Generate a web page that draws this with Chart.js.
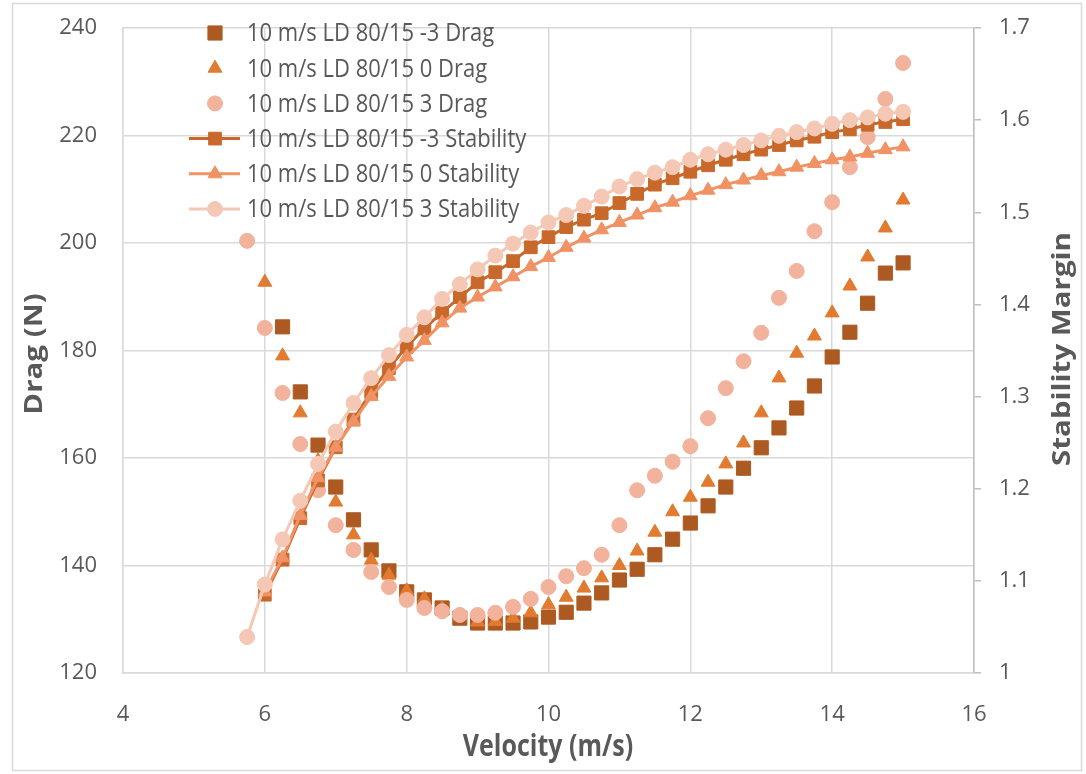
<!DOCTYPE html>
<html>
<head>
<meta charset="utf-8">
<script src="https://cdn.jsdelivr.net/npm/chart.js@4.4.1/dist/chart.umd.min.js"></script>
<style>
  html, body { margin: 0; padding: 0; background: #fff; }
  #wrap { width: 1086px; height: 774px; }
</style>
</head>
<body>
<div id="wrap"><canvas id="chartCanvas" width="1086" height="774"></canvas></div>
<script>
// velocity samples (m/s)
const velocity = [5.75, 6, 6.25, 6.5, 6.75, 7, 7.25, 7.5, 7.75, 8, 8.25, 8.5, 8.75, 9, 9.25, 9.5, 9.75, 10,
  10.25, 10.5, 10.75, 11, 11.25, 11.5, 11.75, 12, 12.25, 12.5, 12.75, 13, 13.25, 13.5, 13.75, 14, 14.25, 14.5, 14.75, 15];

// drag (N), left axis
const dragM3 = [null, null, 184.4, 172.3, 162.4, 154.6, 148.5, 142.9, 139.0, 135.1, 133.6, 132.1, 130.2, 129.3, 129.3, 129.3, 129.5, 130.4,
  131.3, 133.0, 134.9, 137.3, 139.3, 142.0, 144.9, 147.9, 151.1, 154.6, 158.1, 161.9, 165.6, 169.3, 173.4, 178.8, 183.4, 188.8, 194.4, 196.3];
const drag0 = [null, 192.7, 179.0, 168.4, 159.5, 151.8, 145.7, 141.0, 138.2, 135.3, 133.8, 132.0, 130.6, 129.5, 129.6, 130.2, 131.2, 132.7,
  134.1, 135.8, 137.7, 140.0, 142.7, 146.2, 150.0, 152.7, 155.5, 158.9, 162.8, 168.4, 174.9, 179.5, 182.7, 187.0, 192.0, 197.4, 202.8, 208.0];
const drag3 = [200.4, 184.2, 172.1, 162.6, 154.0, 147.5, 142.9, 138.8, 136.0, 133.6, 132.1, 131.5, 130.8, 130.8, 131.2, 132.3, 133.8, 136.0,
  138.0, 139.5, 142.0, 147.5, 154.0, 156.7, 159.3, 162.2, 167.4, 173.0, 178.0, 183.3, 189.8, 194.8, 202.2, 207.6, 214.1, 219.7, 226.8, 233.5];

// stability margin, right axis
const stabM3 = [null, 1.085, 1.123, 1.168, 1.209, 1.245, 1.275, 1.305, 1.331, 1.354, 1.374, 1.391, 1.408, 1.424, 1.435, 1.447, 1.462, 1.473,
  1.484, 1.492, 1.499, 1.510, 1.520, 1.530, 1.537, 1.544, 1.551, 1.557, 1.563, 1.568, 1.573, 1.578, 1.582, 1.587, 1.590, 1.595, 1.598, 1.601];
const stab0 = [null, 1.088, 1.125, 1.171, 1.212, 1.245, 1.273, 1.300, 1.322, 1.343, 1.361, 1.380, 1.396, 1.408, 1.419, 1.430, 1.441, 1.451,
  1.462, 1.472, 1.481, 1.489, 1.497, 1.505, 1.511, 1.518, 1.524, 1.530, 1.535, 1.540, 1.544, 1.549, 1.553, 1.557, 1.560, 1.564, 1.568, 1.571];
const stab3 = [1.039, 1.096, 1.145, 1.187, 1.227, 1.262, 1.293, 1.320, 1.345, 1.367, 1.386, 1.406, 1.422, 1.438, 1.453, 1.466, 1.478, 1.489,
  1.497, 1.507, 1.517, 1.528, 1.536, 1.543, 1.549, 1.557, 1.563, 1.568, 1.573, 1.578, 1.583, 1.587, 1.591, 1.596, 1.600, 1.603, 1.607, 1.609];

const seriesLabels = [
  '10 m/s LD 80/15 -3 Drag',
  '10 m/s LD 80/15 0 Drag',
  '10 m/s LD 80/15 3 Drag',
  '10 m/s LD 80/15 -3 Stability',
  '10 m/s LD 80/15 0 Stability',
  '10 m/s LD 80/15 3 Stability'
];

const FONT = '"Open Sans", sans-serif';
const TEXT = '#595959';
const GRID = '#d9d9d9';
const STRETCH = 1.18; // text is drawn a bit taller than wide

function toPoints(values) {
  return velocity.map((v, i) => ({ x: v, y: values[i] })).filter(p => p.y !== null);
}

function series(label, values, color, style, radius, axis, line, order) {
  return {
    label: label,
    data: toPoints(values),
    yAxisID: axis,
    showLine: line,
    borderColor: color,
    backgroundColor: color,
    borderWidth: 3,
    pointStyle: style,
    pointRadius: radius,
    pointBorderWidth: 1,
    pointBorderColor: color,
    pointBackgroundColor: color,
    pointHoverRadius: radius,
    order: order
  };
}

const datasets = [
  series(seriesLabels[0], dragM3, '#ad5a22', 'rect', 10, 'y', false, 6),
  series(seriesLabels[1], drag0, '#e27a2f', 'triangle', 8, 'y', false, 5),
  series(seriesLabels[2], drag3, '#f2b29b', 'circle', 7.5, 'y', false, 4),
  series(seriesLabels[3], stabM3, '#c8692b', 'rect', 9, 'y2', true, 3),
  series(seriesLabels[4], stab0, '#f09264', 'triangle', 8, 'y2', true, 2),
  series(seriesLabels[5], stab3, '#f5c8b6', 'circle', 7.5, 'y2', true, 1)
];

function stretchedText(ctx, text, x, y, angle) {
  ctx.save();
  ctx.translate(x, y);
  if (angle) {
    ctx.rotate(angle);
    ctx.scale(STRETCH, 1);
  } else {
    ctx.scale(1, STRETCH);
  }
  ctx.fillText(text, 0, 0);
  ctx.restore();
}

// background, frame, axis titles and the legend block
const decorations = {
  id: 'decorations',
  beforeDraw(chart) {
    const ctx = chart.ctx;
    ctx.save();
    ctx.fillStyle = '#fff';
    ctx.fillRect(0, 0, chart.width, chart.height);
    ctx.strokeStyle = GRID;
    ctx.lineWidth = 1.5;
    ctx.strokeRect(12.5, 3.5, 1069, 767);
    ctx.restore();
  },
  afterDraw(chart) {
    const ctx = chart.ctx;
    ctx.save();
    ctx.fillStyle = TEXT;
    ctx.font = 'bold 25px ' + FONT;
    ctx.textAlign = 'center';
    ctx.textBaseline = 'middle';
    stretchedText(ctx, 'Velocity (m/s)', 548, 748, 0);
    stretchedText(ctx, 'Drag (N)', 35, 354, -Math.PI / 2);
    stretchedText(ctx, 'Stability Margin', 1063, 349, -Math.PI / 2);

    // legend
    ctx.font = '22px ' + FONT;
    ctx.textAlign = 'left';
    chart.data.datasets.forEach((ds, i) => {
      const y = 33 + i * 35.2;
      ctx.strokeStyle = ds.borderColor;
      ctx.fillStyle = ds.backgroundColor;
      if (ds.showLine) {
        ctx.lineWidth = 3;
        ctx.beginPath();
        ctx.moveTo(189, y);
        ctx.lineTo(240, y);
        ctx.stroke();
      }
      ctx.lineWidth = 1;
      Chart.helpers.drawPoint(ctx, { pointStyle: ds.pointStyle, radius: ds.pointRadius, rotation: 0, borderWidth: 1 }, 215, y);
      ctx.fillStyle = TEXT;
      stretchedText(ctx, ds.label, 247, y + 1, 0);
    });
    ctx.restore();
  }
};

const tickFont = { family: FONT, size: 22 };

// fixed box sizes so the plot area sits where it should
function fixWidth(w) {
  return scale => { scale.width = w; scale.paddingTop = 0; scale.paddingBottom = 0; };
}

new Chart(document.getElementById('chartCanvas').getContext('2d'), {
  type: 'scatter',
  data: { datasets: datasets },
  options: {
    responsive: false,
    animation: false,
    events: [],
    layout: { padding: { top: 28, left: 0, right: 0, bottom: 0 } },
    plugins: { legend: { display: false }, tooltip: { enabled: false } },
    scales: {
      x: {
        type: 'linear',
        min: 4, max: 16,
        ticks: { stepSize: 2, font: tickFont, color: TEXT, padding: 29, maxRotation: 0 },
        grid: { color: GRID, lineWidth: 1.5, drawTicks: false },
        border: { color: GRID, width: 1.5 },
        afterFit(scale) { scale.height = 101; scale.paddingLeft = 0; scale.paddingRight = 0; }
      },
      y: {
        position: 'left',
        min: 120, max: 240,
        ticks: { stepSize: 20, font: tickFont, color: TEXT, padding: 26 },
        grid: { color: GRID, lineWidth: 1.5, drawTicks: false },
        border: { color: GRID, width: 1.5 },
        afterFit: fixWidth(123)
      },
      y2: {
        position: 'right',
        min: 1, max: 1.7,
        ticks: {
          stepSize: 0.1, font: tickFont, color: TEXT, padding: 18,
          callback: v => String(Number(v.toFixed(1)))
        },
        grid: { drawOnChartArea: false, color: '#bfbfbf', tickLength: 7, lineWidth: 1.5 },
        border: { color: '#bfbfbf', width: 1.5 },
        afterFit: fixWidth(112)
      }
    }
  },
  plugins: [decorations]
});
</script>
</body>
</html>
